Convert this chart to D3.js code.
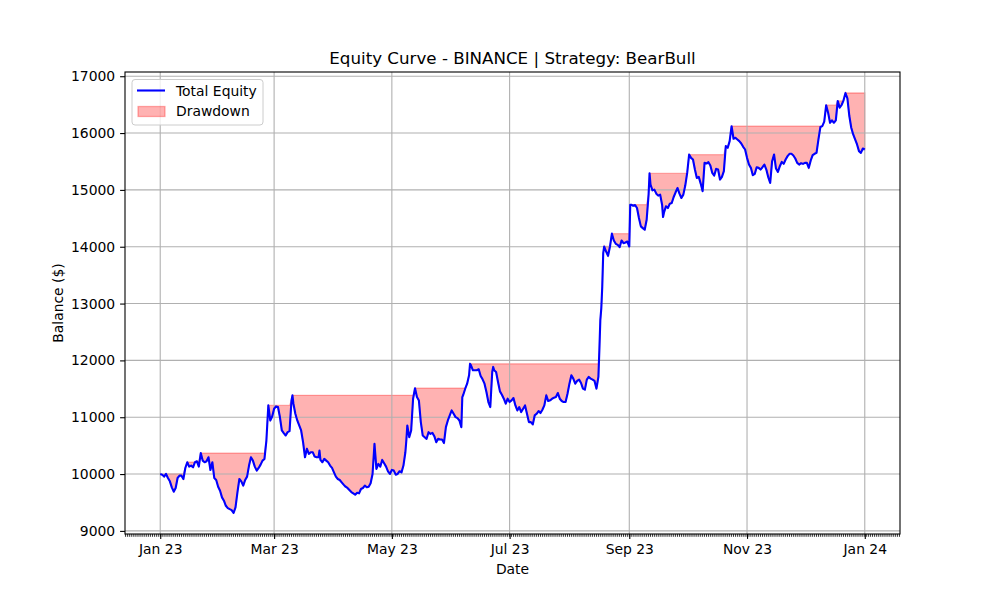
<!DOCTYPE html>
<html>
<head>
<meta charset="utf-8">
<script src="https://cdn.jsdelivr.net/npm/d3@7"></script>
<style>
  body { margin: 0; background: #fff; }
  svg { display: block; font-family: "DejaVu Sans", sans-serif; }
</style>
</head>
<body>
<svg id="chart" width="1000" height="600"></svg>
<script>
// equity, days counted from 2023-01-01
const startDate = Date.UTC(2023, 0, 1);
const dayOffsets = [
  0, 1, 2, 3, 4, 5, 6, 7, 8, 9, 10, 11, 12, 13, 14, 15, 16, 17, 18, 19,
  20, 21, 22, 23, 24, 25, 26, 27, 28, 29, 30, 31, 32, 33, 34, 35, 36, 37, 38, 39,
  40, 41, 42, 43, 44, 45, 46, 47, 48, 49, 50, 51, 52, 53, 54, 55, 56, 57, 58, 59,
  60, 61, 62, 63, 64, 65, 66, 67, 68, 68.5, 69, 70, 71, 72, 73, 74, 75, 76, 77, 78,
  79, 80, 81, 82, 82.5, 83, 84, 85, 86, 87, 88, 89, 90, 91, 92, 93, 94, 95, 96, 97,
  98, 99, 100, 101, 102, 103, 104, 105, 106, 107, 108, 109, 110, 111, 112, 113, 114, 115, 116, 117,
  118, 119, 120, 121, 122, 123, 124, 125, 126, 127, 127.5, 128, 129, 130, 131, 132, 133, 134, 135, 136,
  137, 138, 139, 140, 141, 142, 143, 144, 145, 146, 147, 148, 149, 150, 151, 152, 153, 154, 155, 156,
  156.5, 157, 158, 159, 160, 160.5, 161, 162, 163, 164, 165, 166, 167, 168, 169, 170, 171, 172, 172.5, 173,
  174, 175, 176, 177, 178, 179, 180, 181, 182, 183, 184, 185, 186, 187, 188, 189, 190, 191, 192, 193,
  194, 195, 196, 197, 198, 199, 200, 201, 202, 203, 204, 205, 206, 207, 208, 209, 210, 211, 212, 213,
  214, 215, 216, 217, 218, 219, 220, 221, 222, 223, 224, 225, 226, 227, 227.5, 228, 228.5, 229, 229.5, 230,
  231, 232, 233, 234, 235, 236, 237, 238, 239, 240, 241, 242, 243, 243.5, 244, 245, 246, 247, 248, 249,
  250, 251, 252, 253, 253.5, 254, 255, 256, 257, 258, 259, 260, 260.5, 261, 262, 263, 264, 265, 266, 267,
  268, 269, 270, 271, 272, 273, 274, 275, 276, 277, 278, 279, 280, 281, 282, 283, 284, 285, 286, 287,
  288, 289, 290, 291, 292, 293, 294, 295, 296, 297, 298, 299, 300, 301, 302, 303, 304, 305, 306, 307,
  308, 309, 310, 311, 312, 313, 314, 315, 316, 317, 318, 319, 320, 321, 322, 323, 324, 325, 326, 327,
  328, 329, 330, 331, 332, 333, 334, 335, 336, 337, 338, 339, 340, 341, 342, 343, 344, 345, 346, 347,
  348, 349, 350, 351, 352, 353, 354, 355, 356, 357, 358, 359, 360, 361, 362, 363, 364, 365
];
const equity = [
  10000, 9990, 9955, 10002, 9931, 9872, 9766, 9690, 9754, 9931, 9972, 9972, 9913, 10107, 10208, 10131, 10149, 10119, 10208, 10225,
  10131, 10370, 10237, 10208, 10225, 10296, 10072, 10208, 9931, 9896, 9778, 9707, 9590, 9531, 9442, 9401, 9383, 9366, 9315, 9413,
  9678, 9913, 9872, 9796, 9896, 9955, 10149, 10296, 10237, 10131, 10060, 10107, 10166, 10237, 10266, 10590, 11208, 10943, 11014, 11149,
  11191, 11179, 11003, 10767, 10720, 10679, 10738, 10755, 11297, 11385, 11238, 11061, 10944, 10855, 10767, 10561, 10296, 10444, 10355, 10385,
  10385, 10308, 10296, 10296, 10414, 10249, 10208, 10267, 10237, 10208, 10149, 10108, 10031, 9955, 9914, 9896, 9855, 9814, 9778, 9755,
  9719, 9684, 9661, 9637, 9672, 9661, 9737, 9755, 9796, 9767, 9778, 9837, 10002, 10532, 10090, 10179, 10131, 10249, 10190, 10131,
  10049, 10002, 10073, 10061, 9990, 10002, 10050, 10030, 10150, 10384, 10590, 10855, 10649, 10767, 11326, 11510, 11355, 11296, 10914, 10678,
  10649, 10620, 10737, 10708, 10725, 10667, 10561, 10620, 10608, 10608, 10549, 10826, 10943, 11032, 11120, 11061, 11002, 10985, 10943, 10826,
  11355, 11396, 11502, 11591, 11738, 11940, 11914, 11826, 11826, 11826, 11844, 11726, 11667, 11591, 11444, 11267, 11179, 11797, 11885, 11826,
  11797, 11620, 11455, 11396, 11326, 11238, 11326, 11267, 11296, 11338, 11208, 11120, 11179, 11091, 11149, 11208, 11061, 10914, 10914, 10873,
  11032, 11061, 11108, 11073, 11132, 11208, 11385, 11285, 11297, 11326, 11344, 11355, 11426, 11326, 11285, 11267, 11267, 11414, 11591, 11738,
  11679, 11591, 11638, 11662, 11603, 11503, 11485, 11662, 11709, 11679, 11662, 11638, 11503, 11709, 12180, 12709, 12915, 13298, 13886, 14004,
  13916, 13839, 14004, 14230, 14110, 14051, 14033, 13992, 14110, 14063, 14075, 14092, 14004, 14740, 14740, 14722, 14734, 14681, 14505, 14358,
  14328, 14299, 14475, 14917, 15290, 15093, 14993, 15005, 14934, 14899, 14917, 14740, 14522, 14605, 14711, 14681, 14758, 14770, 14875, 14958,
  15034, 14934, 14858, 14917, 15076, 15299, 15620, 15564, 15535, 15358, 15211, 15229, 15111, 14976, 15476, 15464, 15488, 15429, 15299, 15252,
  15370, 15358, 15182, 15229, 15329, 15770, 15741, 15858, 16120, 15900, 15917, 15888, 15858, 15817, 15758, 15711, 15564, 15446, 15388, 15258,
  15282, 15399, 15388, 15358, 15399, 15446, 15358, 15223, 15123, 15505, 15623, 15376, 15317, 15417, 15493, 15458, 15535, 15594, 15635, 15635,
  15605, 15552, 15476, 15446, 15470, 15458, 15476, 15476, 15388, 15517, 15611, 15635, 15652, 15888, 16106, 16123, 16200, 16490, 16359, 16182,
  16223, 16182, 16223, 16565, 16447, 16494, 16576, 16705, 16612, 16300, 16094, 15976, 15888, 15800, 15682, 15652, 15729, 15711
];
const yTicks = [9000, 10000, 11000, 12000, 13000, 14000, 15000, 16000, 17000];
const legendLabels = ['Total Equity', 'Drawdown'];

const points = dayOffsets.map((d, i) => ({
  date: new Date(startDate + d * 864e5),
  value: equity[i],
}));
// running max -> drawdown area
let peak = -Infinity;
points.forEach(p => {
  peak = Math.max(peak, p.value);
  p.peak = peak;
});

const plot = { left: 125, right: 900, top: 72, bottom: 534 };
const svg = d3.select('#chart');

// matplotlib-like 5% margins
const xExt = d3.extent(points, p => p.date);
const xPad = (xExt[1] - xExt[0]) * 0.05;
const x = d3.scaleUtc()
  .domain([new Date(+xExt[0] - xPad), new Date(+xExt[1] + xPad)])
  .range([plot.left, plot.right]);

const yExt = d3.extent(points, p => p.value);
const yPad = (yExt[1] - yExt[0]) * 0.05;
const y = d3.scaleLinear()
  .domain([yExt[0] - yPad, yExt[1] + yPad])
  .range([plot.bottom, plot.top]);

const xTicks = x.ticks(d3.utcMonth.every(2));
const gridColor = '#b0b0b0';

// drawdown fill (under the grid, like matplotlib)
const area = d3.area()
  .x(d => x(d.date))
  .y0(d => y(d.value))
  .y1(d => y(d.peak));
svg.append('path')
  .datum(points)
  .attr('d', area)
  .attr('fill', 'red')
  .attr('fill-opacity', 0.3)
  .attr('stroke', 'red')
  .attr('stroke-opacity', 0.3)
  .attr('stroke-width', 1.3);

// grid
const grid = svg.append('g');
grid.selectAll('.gx')
  .data(xTicks)
  .join('line')
  .attr('x1', d => x(d)).attr('x2', d => x(d))
  .attr('y1', plot.top).attr('y2', plot.bottom)
  .attr('stroke', gridColor).attr('stroke-width', 1.1);
grid.selectAll('.gy')
  .data(yTicks)
  .join('line')
  .attr('x1', plot.left).attr('x2', plot.right)
  .attr('y1', d => y(d)).attr('y2', d => y(d))
  .attr('stroke', gridColor).attr('stroke-width', 1.1);

// equity line
const line = d3.line()
  .x(d => x(d.date))
  .y(d => y(d.value));
svg.append('path')
  .datum(points)
  .attr('d', line)
  .attr('fill', 'none')
  .attr('stroke', 'blue')
  .attr('stroke-width', 2.1)
  .attr('stroke-linejoin', 'round');

// axes
const xAxis = svg.append('g')
  .attr('transform', `translate(0,${plot.bottom})`)
  .call(d3.axisBottom(x)
    .tickValues(xTicks)
    .tickFormat(d3.utcFormat('%b %y'))
    .tickSize(4.9)
    .tickPadding(4.9));
xAxis.select('.domain').remove();

// daily minor ticks
svg.append('g')
  .selectAll('line')
  .data(d3.utcDay.range(x.domain()[0], x.domain()[1]))
  .join('line')
  .attr('x1', d => x(d)).attr('x2', d => x(d))
  .attr('y1', plot.bottom).attr('y2', plot.bottom + 2.8)
  .attr('stroke', '#000').attr('stroke-width', 0.8);

const yAxis = svg.append('g')
  .attr('transform', `translate(${plot.left},0)`)
  .call(d3.axisLeft(y)
    .tickValues(yTicks)
    .tickFormat(d3.format('d'))
    .tickSize(4.9)
    .tickPadding(4.9));
yAxis.select('.domain').remove();

svg.selectAll('.tick text')
  .attr('font-size', 13.9)
  .attr('font-family', '"DejaVu Sans", sans-serif')
  .attr('fill', '#000');
svg.selectAll('.tick line')
  .attr('stroke', '#000')
  .attr('stroke-width', 1.1);

// spines
svg.append('rect')
  .attr('x', plot.left).attr('y', plot.top)
  .attr('width', plot.right - plot.left)
  .attr('height', plot.bottom - plot.top)
  .attr('fill', 'none')
  .attr('stroke', '#000')
  .attr('stroke-width', 1.1);

// title and labels
svg.append('text')
  .attr('x', (plot.left + plot.right) / 2).attr('y', 64)
  .attr('text-anchor', 'middle')
  .attr('font-size', 16.7)
  .text('Equity Curve - BINANCE | Strategy: BearBull');

svg.append('text')
  .attr('x', (plot.left + plot.right) / 2).attr('y', 574)
  .attr('text-anchor', 'middle')
  .attr('font-size', 13.9)
  .text('Date');

svg.append('text')
  .attr('transform', `translate(63,${(plot.top + plot.bottom) / 2}) rotate(-90)`)
  .attr('text-anchor', 'middle')
  .attr('font-size', 13.9)
  .text('Balance ($)');

// legend
const legend = svg.append('g').attr('transform', 'translate(132,79.5)');
legend.append('rect')
  .attr('width', 131).attr('height', 45.5)
  .attr('rx', 3).attr('ry', 3)
  .attr('fill', '#fff').attr('fill-opacity', 0.8)
  .attr('stroke', '#cccccc').attr('stroke-width', 1);
legend.append('line')
  .attr('x1', 5).attr('x2', 33)
  .attr('y1', 11).attr('y2', 11)
  .attr('stroke', 'blue').attr('stroke-width', 2.1);
legend.append('rect')
  .attr('x', 6).attr('y', 27).attr('width', 27).attr('height', 10)
  .attr('fill', 'red').attr('fill-opacity', 0.3)
  .attr('stroke', 'red').attr('stroke-opacity', 0.3).attr('stroke-width', 1.3);
legend.selectAll('.lbl')
  .data(legendLabels)
  .join('text')
  .attr('x', 44)
  .attr('y', (d, i) => 16 + i * 20.5)
  .attr('font-size', 13.9)
  .text(d => d);
</script>
</body>
</html>
